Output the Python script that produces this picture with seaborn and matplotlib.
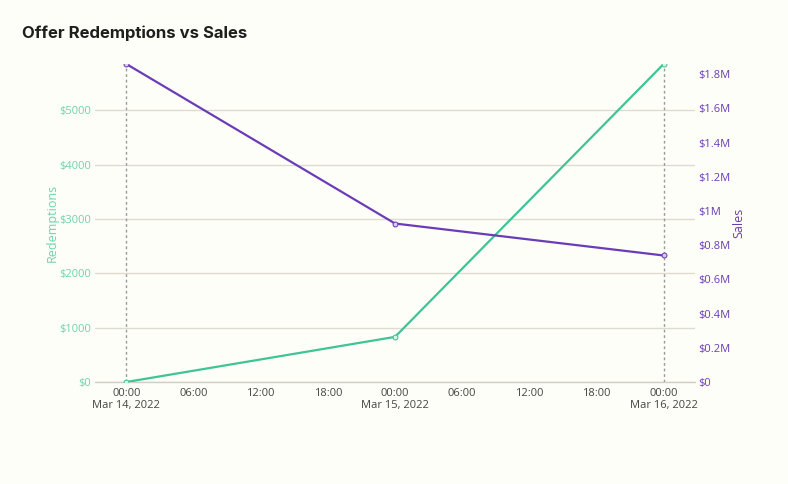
import pandas as pd
import matplotlib
matplotlib.use("Agg")
import matplotlib.pyplot as plt
import matplotlib.dates as mdates
from matplotlib.ticker import FuncFormatter, MultipleLocator
import seaborn as sns

dates = ["2022-03-14", "2022-03-15", "2022-03-16"]
redemptions = [0, 830, 5850]
sales = [1860000, 927000, 740000]

green = "#3ec497"
green_text = "#6dd3a9"
purple = "#6a3cb8"
bg = "#fefef8"

df = pd.DataFrame({"date": pd.to_datetime(dates), "Redemptions": redemptions, "Sales": sales})

sns.set_theme(style="white")
plt.rcParams["font.family"] = ["Open Sans", "DejaVu Sans"]

fig = plt.figure(figsize=(7.88, 4.84), dpi=100, facecolor=bg)
ax = fig.add_axes([95 / 788, 1 - 382 / 484, 600 / 788, 318 / 484], facecolor=bg)
ax2 = ax.twinx()

sns.lineplot(data=df, x="date", y="Redemptions", ax=ax, color=green, linewidth=1.6,
             marker="o", markersize=3.5, markerfacecolor="#d8f3e8", markeredgecolor=green, zorder=3)
sns.lineplot(data=df, x="date", y="Sales", ax=ax2, color=purple, linewidth=1.6,
             marker="o", markersize=3.5, markerfacecolor="#d9cdf0", markeredgecolor=purple, zorder=3)

pad = pd.Timedelta(hours=2.8)
ax.set_xlim(df["date"].min() - pad, df["date"].max() + pad)
ax.set_ylim(0, max(redemptions))
ax2.set_ylim(0, max(sales))

for d in df["date"].iloc[[0, -1]]:
    ax.axvline(d, color="#9a9a9a", linestyle=(0, (2, 2)), linewidth=1, zorder=1)
ax.axhline(0, color="#cfcfc4", linewidth=1, zorder=1, clip_on=False)

ax.yaxis.set_major_locator(MultipleLocator(1000))
ax.yaxis.set_major_formatter(FuncFormatter(lambda v, p: f"${v:.0f}"))
ax2.yaxis.set_major_locator(MultipleLocator(200000))
ax2.yaxis.set_major_formatter(FuncFormatter(lambda v, p: "$0" if v == 0 else f"${v / 1e6:g}M"))

def xfmt(v, p):
    t = mdates.num2date(v)
    if t.hour == 0:
        return t.strftime("%H:%M") + "\n" + t.strftime("%b %d, %Y").replace(" 0", " ")
    return t.strftime("%H:%M")

ax.xaxis.set_major_locator(mdates.HourLocator(byhour=range(0, 24, 6)))
ax.xaxis.set_major_formatter(FuncFormatter(xfmt))

ax.grid(axis="y", color="#dcdcd0", linewidth=1)
ax.grid(axis="x", visible=False)
ax2.grid(False)
for a in (ax, ax2):
    for s in a.spines.values():
        s.set_visible(False)

ax.tick_params(axis="y", colors=green_text, labelsize=8, length=0, pad=3)
ax2.tick_params(axis="y", colors=purple, labelsize=8, length=0, pad=2)
ax.tick_params(axis="x", colors="#444444", labelsize=8, length=0, pad=4)

ax.set_xlabel("")
ax.set_ylabel("Redemptions", color=green_text, fontsize=9, labelpad=0)
ax2.set_ylabel("Sales", color=purple, fontsize=9, labelpad=2)

fig.text(22 / 788, 1 - 33 / 484, "Offer Redemptions vs Sales", fontsize=12, fontweight="bold",
         color="#1e1e1e", va="center", ha="left", family=["Inter", "DejaVu Sans"])

fig.savefig("out.png", dpi=100, facecolor=bg)
